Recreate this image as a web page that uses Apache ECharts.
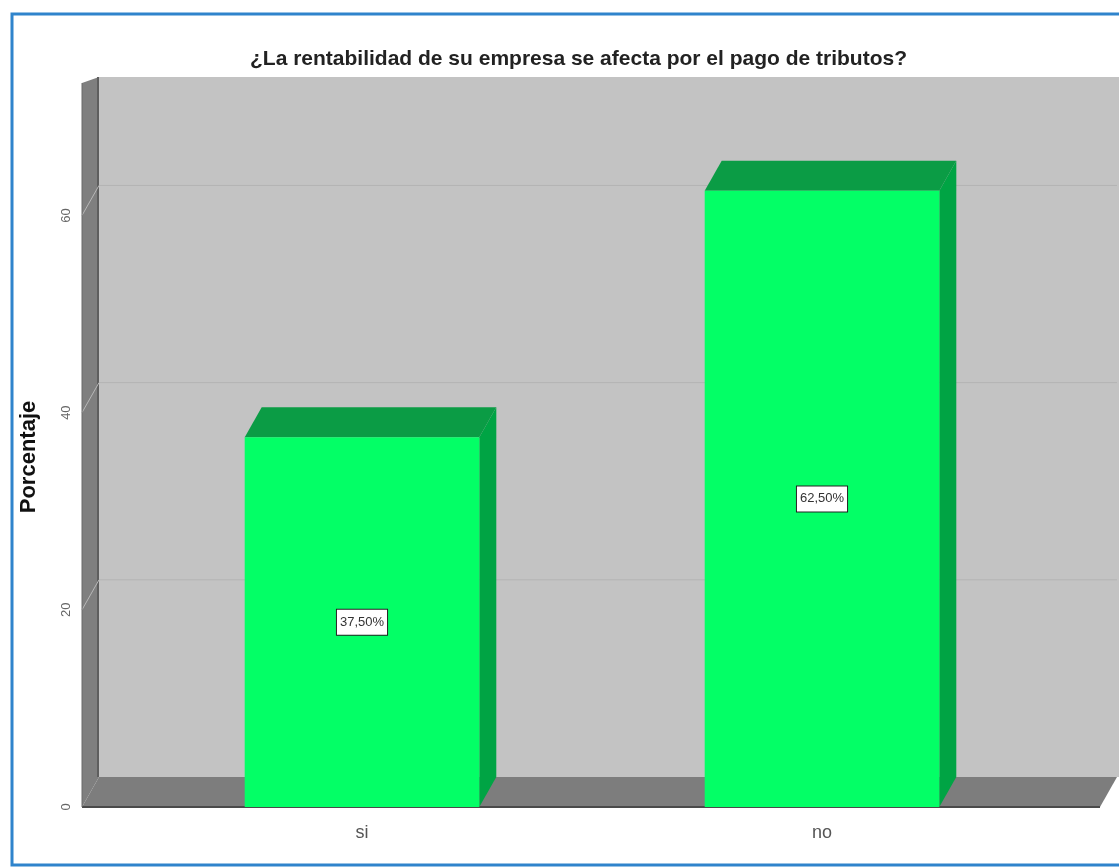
<!DOCTYPE html>
<html>
<head>
<meta charset="utf-8">
<script src="https://cdn.jsdelivr.net/npm/echarts@6/dist/echarts.min.js"></script>
<style>
  html, body { margin: 0; padding: 0; background: #fff; }
  #chart { width: 1119px; height: 867px; }
</style>
</head>
<body>
<div id="chart"></div>
<script>
// datos
var categories = ['si', 'no'];
var percentages = [37.5, 62.5];
var yTicks = [0, 20, 40, 60];

var chart = echarts.init(document.getElementById('chart'), null, { renderer: 'canvas' });

// profundidad del efecto 3D
var DX = 17, DY = -30;

var narrow = '"Liberation Sans Narrow", "Arial Narrow", "Liberation Sans", sans-serif';

// paredes y piso
function renderWalls(params, api) {
  var cs = params.coordSys;
  var y0 = api.coord([0, 0])[1];
  var yTop = api.coord([0, 71])[1] + DY;
  var fl = cs.x - 50;              // frente izquierda
  var fr = cs.x + cs.width + 48;   // frente derecha
  var children = [];
  // pared del fondo
  children.push({
    type: 'rect',
    shape: { x: fl + DX, y: yTop, width: fr - fl + 2, height: y0 + DY - yTop },
    style: { fill: '#c3c3c3' }
  });
  // lineas de grilla en el fondo y diagonales en la pared
  yTicks.forEach(function (t) {
    if (t === 0) return;
    var y = api.coord([0, t])[1];
    children.push({
      type: 'line',
      shape: { x1: fl + DX, y1: y + DY, x2: fr + DX, y2: y + DY },
      style: { stroke: '#b3b3b3', lineWidth: 1 }
    });
  });
  // pared izquierda
  children.push({
    type: 'polygon',
    shape: { points: [[fl, y0], [fl, yTop + 6], [fl + DX, yTop], [fl + DX, y0 + DY]] },
    style: { fill: '#7f7f7f' }
  });
  children.push({
    type: 'line',
    shape: { x1: fl + DX - 1, y1: yTop, x2: fl + DX - 1, y2: y0 + DY },
    style: { stroke: '#5e5e5e', lineWidth: 2 }
  });
  yTicks.forEach(function (t) {
    if (t === 0) return;
    var y = api.coord([0, t])[1];
    children.push({
      type: 'line',
      shape: { x1: fl, y1: y, x2: fl + DX, y2: y + DY },
      style: { stroke: '#b8b8b8', lineWidth: 1 }
    });
  });
  // piso
  children.push({
    type: 'polygon',
    shape: { points: [[fl, y0], [fl + DX, y0 + DY], [fr + DX, y0 + DY], [fr, y0]] },
    style: { fill: '#7d7d7d' }
  });
  children.push({
    type: 'line',
    shape: { x1: fl, y1: y0, x2: fr, y2: y0 },
    style: { stroke: '#4a4a4a', lineWidth: 2 }
  });
  children.push({
    type: 'line',
    shape: { x1: fl, y1: y0, x2: fl, y2: yTop + 6 },
    style: { stroke: '#6a6a6a', lineWidth: 1 }
  });
  return { type: 'group', children: children };
}

// barras 3D
function renderBar(params, api) {
  var idx = api.value(0);
  var v = api.value(1);
  var top = api.coord([idx, v]);
  var base = api.coord([idx, 0]);
  var bw = api.size([1, 0])[0] * 0.51;
  var l = top[0] - bw / 2, r = top[0] + bw / 2;
  var t = top[1], b = base[1];
  var label = v.toFixed(2).replace('.', ',') + '%';
  return {
    type: 'group',
    children: [
      {
        type: 'polygon',
        shape: { points: [[r, t], [r + DX, t + DY], [r + DX, b + DY], [r, b]] },
        style: { fill: '#00a444' }
      },
      {
        type: 'polygon',
        shape: { points: [[l, t], [l + DX, t + DY], [r + DX, t + DY], [r, t]] },
        style: { fill: '#0b9c45' }
      },
      {
        type: 'rect',
        shape: { x: l, y: t, width: bw, height: b - t },
        style: { fill: '#03ff66' }
      },
      {
        type: 'text',
        style: {
          text: label,
          x: top[0],
          y: (t + b) / 2,
          align: 'center',
          verticalAlign: 'middle',
          fill: '#333',
          fontSize: 13,
          fontFamily: narrow,
          backgroundColor: '#fff',
          borderColor: '#222',
          borderWidth: 1,
          padding: [6, 3, 6, 3]
        }
      }
    ]
  };
}

var option = {
  backgroundColor: '#fff',
  animation: false,
  title: {
    text: '¿La rentabilidad de su empresa se afecta por el pago de tributos?',
    left: 245,
    top: 44,
    textStyle: {
      fontFamily: narrow,
      fontWeight: 'bold',
      fontSize: 21,
      color: '#222'
    }
  },
  graphic: [{
    type: 'rect',
    shape: { x: 12, y: 14, width: 1112, height: 851 },
    style: { fill: 'transparent', stroke: '#2f84cc', lineWidth: 3 },
    z: 100
  }],
  grid: { left: 132, right: 67, top: 107, bottom: 60 },
  xAxis: {
    type: 'category',
    data: categories,
    axisLine: { show: false },
    axisTick: { show: false },
    axisLabel: { fontSize: 18, color: '#555', margin: 17, fontFamily: narrow }
  },
  yAxis: {
    type: 'value',
    min: 0,
    max: 71,
    interval: 20,
    offset: 50,
    name: 'Porcentaje',
    nameLocation: 'middle',
    nameGap: 42,
    nameTextStyle: { fontWeight: 'bold', fontSize: 22, color: '#111', fontFamily: '"Liberation Sans", sans-serif' },
    axisLine: { show: false },
    axisTick: { show: false },
    splitLine: { show: false },
    axisLabel: {
      rotate: 90,
      fontSize: 13,
      color: '#666',
      margin: 9,
      formatter: function (v) { return yTicks.indexOf(v) >= 0 ? String(v) : ''; }
    }
  },
  series: [
    {
      type: 'custom',
      z: 1,
      silent: true,
      renderItem: renderWalls,
      data: [[0, 0]]
    },
    {
      type: 'custom',
      z: 2,
      renderItem: renderBar,
      encode: { x: 0, y: 1 },
      data: percentages.map(function (p, i) { return [i, p]; })
    }
  ]
};

chart.setOption(option);
</script>
</body>
</html>
